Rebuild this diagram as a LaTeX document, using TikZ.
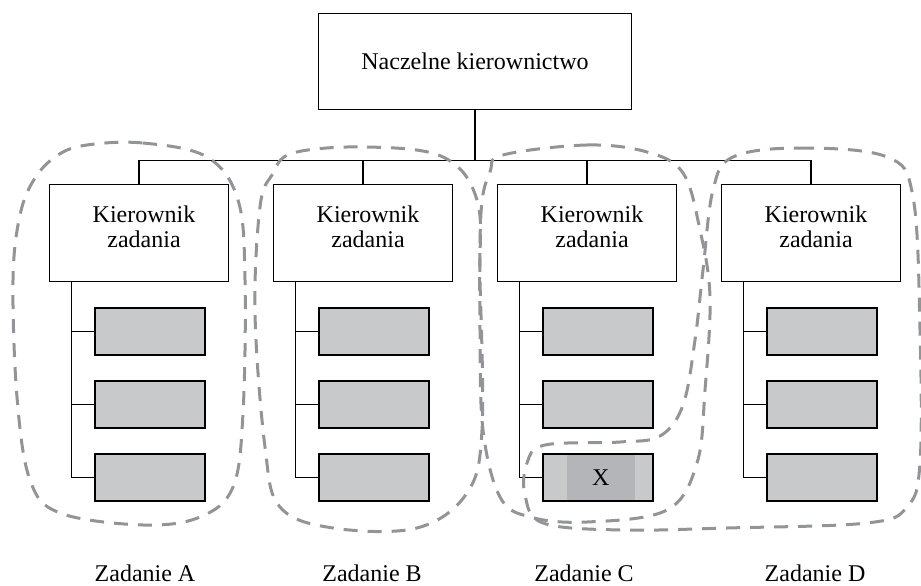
\documentclass[tikz,border=0pt]{standalone}
\usepackage{fontspec}
\setmainfont{Liberation Serif}
\usetikzlibrary{positioning,calc}

\begin{document}
\begin{tikzpicture}[
    x=1pt,y=-1pt,node distance=24pt,
    every node/.style={inner sep=0pt,text=black,font=\fontsize{24}{25}\selectfont},
    bossbox/.style={draw,line width=1.3pt,minimum width=313pt,minimum height=96pt},
    leadbox/.style={draw,line width=1.3pt,minimum width=179pt,minimum height=97pt},
    taskbox/.style={draw,line width=2pt,fill=color1,minimum width=110pt,minimum height=47pt},
    wire/.style={line width=1.3pt},
    groupline/.style={draw=color2,line width=3pt,dash pattern=on 14pt off 10pt}
  ]

  \definecolor{color1}{HTML}{C8C9CB}
  \definecolor{color2}{HTML}{939497}
  \definecolor{color3}{HTML}{B3B5B8}

  \useasboundingbox (0,0) rectangle (921,586);

  \node[bossbox] at (475,61.5) (boss) {Naczelne kierownictwo};

  \node[leadbox] at (139,233) (leadA) {};
  \node[leadbox] at (363,233) (leadB) {};
  \node[leadbox] at (587,233) (leadC) {};
  \node[leadbox] at (811,233) (leadD) {};
  \node[align=center] at ($(leadA)+(5,-6)$) (leadAtext) {Kierownik\\zadania};
  \node[align=center] at ($(leadB)+(5,-6)$) (leadBtext) {Kierownik\\zadania};
  \node[align=center] at ($(leadC)+(5,-6)$) (leadCtext) {Kierownik\\zadania};
  \node[align=center] at ($(leadD)+(5,-6)$) (leadDtext) {Kierownik\\zadania};

  \coordinate (bus) at ($(boss.south)+(0,50)$);
  \draw[wire] (boss.south) -- (bus);
  \draw[wire] (leadA.north) |- (bus) -| (leadD.north);
  \draw[wire] (leadB.north) -- (leadB.north |- bus);
  \draw[wire] (leadC.north) -- (leadC.north |- bus);

  \node[taskbox,anchor=north west] at ($(leadA.south west)+(45,25)$) (a1) {};
  \node[taskbox,below=of a1] (a2) {};
  \node[taskbox,below=of a2] (a3) {};
  \coordinate (spineA) at ($(leadA.south west)!0.5!(leadA.south west -| a1.west)$);
  \draw[wire] (spineA) |- (a1.west);
  \draw[wire] (spineA) |- (a2.west);
  \draw[wire] (spineA) |- (a3.west);

  \node[taskbox,anchor=north west] at ($(leadB.south west)+(45,25)$) (b1) {};
  \node[taskbox,below=of b1] (b2) {};
  \node[taskbox,below=of b2] (b3) {};
  \coordinate (spineB) at ($(leadB.south west)!0.5!(leadB.south west -| b1.west)$);
  \draw[wire] (spineB) |- (b1.west);
  \draw[wire] (spineB) |- (b2.west);
  \draw[wire] (spineB) |- (b3.west);

  \node[taskbox,anchor=north west] at ($(leadC.south west)+(45,25)$) (c1) {};
  \node[taskbox,below=of c1] (c2) {};
  \node[taskbox,below=of c2] (c3) {};
  \node[fill=color3,minimum width=68pt,minimum height=45pt] at ($(c3)+(3,0)$) (xmark) {X};
  \coordinate (spineC) at ($(leadC.south west)!0.5!(leadC.south west -| c1.west)$);
  \draw[wire] (spineC) |- (c1.west);
  \draw[wire] (spineC) |- (c2.west);
  \draw[wire] (spineC) |- (c3.west);

  \node[taskbox,anchor=north west] at ($(leadD.south west)+(45,25)$) (d1) {};
  \node[taskbox,below=of d1] (d2) {};
  \node[taskbox,below=of d2] (d3) {};
  \coordinate (spineD) at ($(leadD.south west)!0.5!(leadD.south west -| d1.west)$);
  \draw[wire] (spineD) |- (d1.west);
  \draw[wire] (spineD) |- (d2.west);
  \draw[wire] (spineD) |- (d3.west);

  \node at (145,573) (taskA) {Zadanie A};
  \node at (372,573) (taskB) {Zadanie B};
  \node at (584,573) (taskC) {Zadanie C};
  \node at (815,573) (taskD) {Zadanie D};

  \draw[groupline] plot[smooth cycle,tension=0.6] coordinates {(87,145) (143,143) (207,157) (238,200) (245,280) (243,413) (233,487) (200,517) (143,525) (60,513) (30,480) (17,397) (13,280) (20,215) (35,178) (58,155)};
  \draw[groupline] plot[smooth cycle,tension=0.6] coordinates {(293,153) (367,147) (443,157) (477,200) (480,280) (482,430) (467,493) (417,528) (333,528) (280,507) (265,447) (255,313) (260,207) (272,175)};
  \draw[groupline] plot[smooth cycle,tension=0.6] coordinates {(503,155) (587,145) (647,152) (683,173) (700,230) (710,297) (705,390) (697,463) (667,510) (587,522) (530,517) (500,497) (483,430) (480,330) (481,213) (490,172)};
  \draw[groupline] plot[smooth cycle,tension=0.6] coordinates {(733,157) (800,148) (887,157) (913,197) (920,330) (920,463) (907,507) (867,523) (727,528) (620,530) (543,523) (525,495) (527,463) (545,445) (620,442) (660,436) (683,405) (695,340) (703,270) (713,190)};
\end{tikzpicture}
\end{document}
